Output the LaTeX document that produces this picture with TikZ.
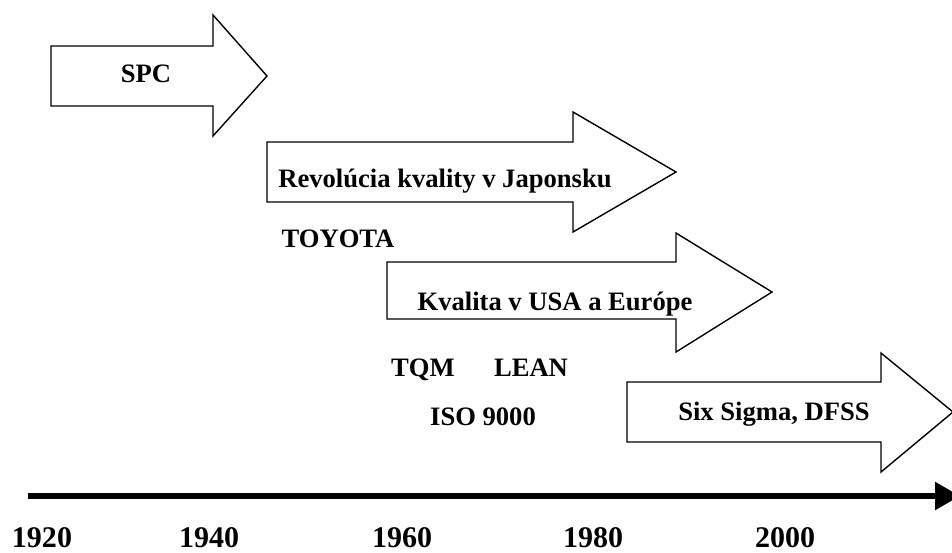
\documentclass[tikz,border=0pt]{standalone}
\usepackage{fontspec}
\setmainfont{Liberation Serif}
\usetikzlibrary{arrows.meta}
\tikzset{
  blk/.style={draw=black, line width=1.4pt, fill=white, line join=miter},
  lbl/.style={font=\fontsize{26.6}{30}\selectfont\bfseries, anchor=base, inner sep=0pt},
  yr/.style={font=\fontsize{30}{34}\selectfont\bfseries, anchor=base, inner sep=0pt},
  axis/.style={line width=5.5pt, -{Triangle[length=25pt,width=27pt]}}
}
\begin{document}
\begin{tikzpicture}[x=1pt,y=-1pt]
\useasboundingbox (0,0) rectangle (952,552);
% block arrows
\draw[blk] (51,46) -- (213,46) -- (213,15) -- (267,76) -- (213,136) -- (213,106) -- (51,106) -- cycle;
\draw[blk] (267,142) -- (573,142) -- (573,112) -- (676,172) -- (573,232) -- (573,202) -- (267,202) -- cycle;
\draw[blk] (387,262) -- (676,262) -- (676,233) -- (772,292) -- (676,352) -- (676,319) -- (387,319) -- cycle;
\draw[blk] (627,382) -- (881,382) -- (881,353) -- (953,412) -- (881,472) -- (881,442) -- (627,442) -- cycle;
% labels in arrows
\node[lbl] (spc) at (146,82) {SPC};
\node[lbl] (jap) at (445,187) {Revolúcia kvality v Japonsku};
\node[lbl] (usa) at (555,310) {Kvalita v USA a Európe};
\node[lbl] (six) at (774,420) {Six Sigma, DFSS};
% free labels
\node[lbl] (toyota) at (338,247) {TOYOTA};
\node[lbl] (tqm) at (423,376) {TQM};
\node[lbl] (lean) at (531,376) {LEAN};
\node[lbl] (iso) at (483,425) {ISO 9000};
% timeline
\coordinate (t0) at (28,496);
\coordinate (t1) at (960,496);
\draw[axis] (t0) -- (t1);
\node[yr] (y1920) at (42,547) {1920};
\node[yr] (y1940) at (209,547) {1940};
\node[yr] (y1960) at (402,547) {1960};
\node[yr] (y1980) at (593,547) {1980};
\node[yr] (y2000) at (785,547) {2000};
\end{tikzpicture}
\end{document}
